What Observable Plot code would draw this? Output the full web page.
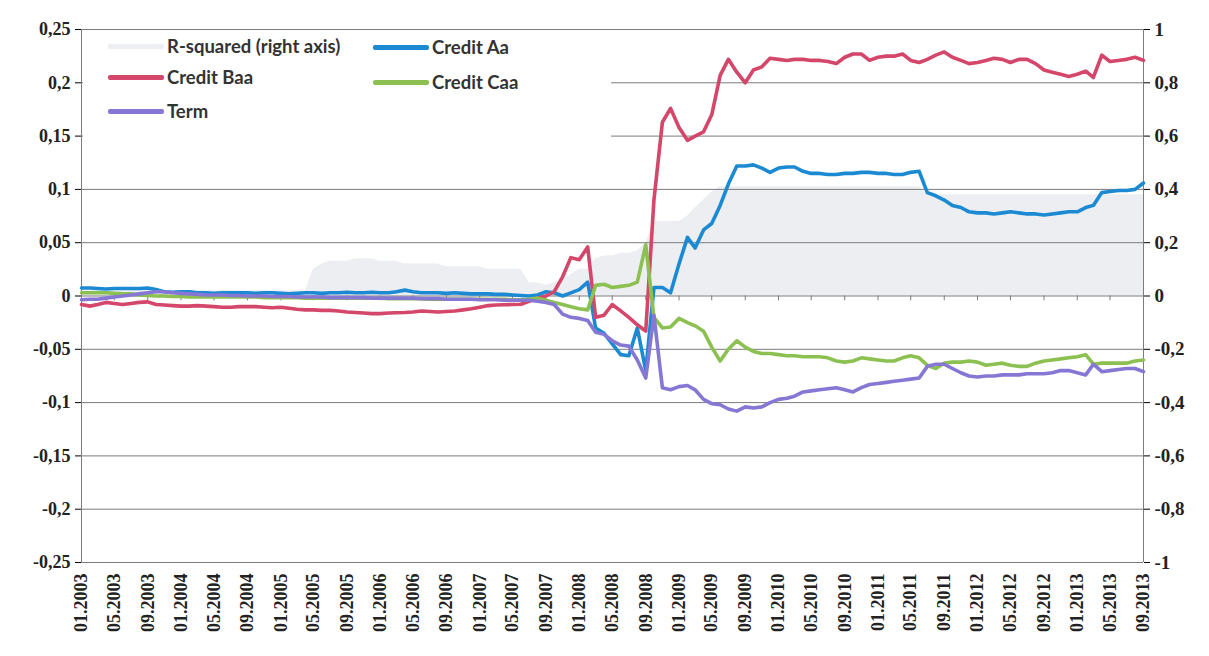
<!DOCTYPE html>
<html><head><meta charset="utf-8">
<script src="https://cdn.jsdelivr.net/npm/d3@7"></script>
<script src="https://cdn.jsdelivr.net/npm/@observablehq/plot@0.6"></script>
<style>
html,body{margin:0;padding:0;background:#fff;}
#wrap{position:relative;width:1209px;height:656px;}
#wrap svg text{font-family:"Liberation Serif", "Times New Roman", serif;font-weight:bold;}
#legend{position:absolute;left:83px;top:30px;width:528px;height:125px;background:#fff;font-family:Lato, sans-serif;font-size:18.5px;font-weight:bold;color:#333;}
.item{position:absolute;display:flex;align-items:center;height:20px;white-space:nowrap;}
.sw{width:56px;height:5px;margin-right:3px;border-radius:2px;}
</style></head><body><div id="wrap"><div id="legend"></div></div>
<script>
// ---- data ----
const startMonth = "2003-01-01";
const endMonth = "2013-09-01";
const seriesNames = ["R-squared (right axis)", "Credit Aa", "Credit Baa", "Credit Caa", "Term"];
const seriesColors = ["#eceef2", "#1b8ad3", "#d4466a", "#8cc152", "#8677d4"];
const leftTicks = [-0.25, -0.2, -0.15, -0.1, -0.05, 0, 0.05, 0.1, 0.15, 0.2, 0.25];

const creditBaa = [
-0.008,-0.0095,-0.008,-0.006,-0.007,-0.008,-0.007,-0.006,-0.0055,-0.008,
-0.0085,-0.009,-0.0095,-0.0095,-0.009,-0.0095,-0.01,-0.0105,-0.0105,-0.01,
-0.01,-0.01,-0.0105,-0.011,-0.0105,-0.0115,-0.0125,-0.013,-0.013,-0.0135,
-0.0135,-0.014,-0.015,-0.0155,-0.016,-0.0165,-0.0165,-0.016,-0.0157,-0.0155,
-0.015,-0.014,-0.0145,-0.015,-0.0145,-0.014,-0.013,-0.012,-0.0105,-0.009,
-0.0085,-0.0082,-0.008,-0.0078,-0.005,-0.002,0.0,0.004,0.018,0.036,
0.034,0.046,-0.02,-0.018,-0.008,-0.014,-0.02,-0.027,-0.033,0.09,
0.163,0.176,0.158,0.146,0.15,0.154,0.17,0.207,0.222,0.21,
0.2,0.212,0.215,0.223,0.222,0.221,0.222,0.222,0.221,0.221,
0.22,0.218,0.224,0.227,0.227,0.221,0.224,0.225,0.225,0.227,
0.221,0.219,0.222,0.226,0.229,0.224,0.221,0.218,0.219,0.221,
0.223,0.222,0.219,0.222,0.222,0.218,0.212,0.21,0.208,0.206,
0.208,0.211,0.205,0.226,0.22,0.221,0.222,0.224,0.221];

const creditAa = [
0.0075,0.0075,0.007,0.0065,0.007,0.007,0.007,0.007,0.0075,0.006,
0.004,0.0035,0.004,0.004,0.003,0.003,0.0025,0.003,0.003,0.003,
0.003,0.0025,0.003,0.003,0.0025,0.002,0.0025,0.003,0.003,0.0025,
0.003,0.003,0.0035,0.003,0.003,0.0035,0.003,0.003,0.004,0.0055,
0.004,0.003,0.003,0.003,0.0025,0.003,0.0025,0.002,0.002,0.002,
0.0015,0.0015,0.001,0.0005,0.0,0.001,0.004,0.003,0.0,0.003,
0.006,0.013,-0.03,-0.035,-0.045,-0.055,-0.056,-0.03,-0.07,0.008,
0.008,0.003,0.03,0.055,0.045,0.062,0.068,0.085,0.105,0.122,
0.122,0.123,0.12,0.116,0.12,0.121,0.121,0.117,0.115,0.115,
0.114,0.114,0.115,0.115,0.116,0.116,0.115,0.115,0.114,0.114,
0.116,0.117,0.097,0.094,0.09,0.085,0.083,0.079,0.078,0.078,
0.077,0.078,0.079,0.078,0.077,0.077,0.076,0.077,0.078,0.079,
0.079,0.083,0.085,0.097,0.098,0.099,0.099,0.1,0.106];

const creditCaa = [
0.003,0.003,0.003,0.003,0.0025,0.002,0.002,0.001,0.0005,0.0,
0.0,-0.0005,-0.0005,-0.001,-0.001,-0.001,-0.001,-0.001,-0.001,-0.001,
-0.001,-0.001,-0.0015,-0.0015,-0.0015,-0.0015,-0.0015,-0.002,-0.002,-0.002,
-0.002,-0.002,-0.002,-0.002,-0.002,-0.002,-0.002,-0.0025,-0.0025,-0.0025,
-0.0025,-0.0025,-0.003,-0.003,-0.003,-0.003,-0.003,-0.003,-0.003,-0.003,
-0.003,-0.003,-0.0035,-0.0035,-0.003,-0.002,-0.004,-0.006,-0.008,-0.01,
-0.012,-0.013,0.01,0.011,0.008,0.009,0.01,0.013,0.048,-0.02,
-0.03,-0.029,-0.021,-0.025,-0.028,-0.033,-0.048,-0.061,-0.05,-0.042,
-0.048,-0.052,-0.054,-0.054,-0.055,-0.056,-0.056,-0.057,-0.057,-0.057,
-0.058,-0.061,-0.062,-0.061,-0.058,-0.059,-0.06,-0.061,-0.061,-0.058,
-0.056,-0.058,-0.065,-0.068,-0.063,-0.062,-0.062,-0.061,-0.062,-0.065,
-0.064,-0.063,-0.065,-0.066,-0.066,-0.063,-0.061,-0.06,-0.059,-0.058,
-0.057,-0.055,-0.064,-0.063,-0.063,-0.063,-0.063,-0.061,-0.06];

const term = [
-0.0035,-0.003,-0.003,-0.002,-0.001,0.0,0.001,0.002,0.003,0.004,
0.004,0.003,0.0025,0.002,0.0015,0.001,0.001,0.001,0.0005,0.0005,
0.0,0.0,0.0,-0.0005,-0.0005,-0.0005,-0.001,-0.001,-0.001,-0.001,
-0.0015,-0.0015,-0.0015,-0.0015,-0.0015,-0.002,-0.002,-0.002,-0.002,-0.002,
-0.002,-0.0025,-0.0025,-0.0025,-0.003,-0.003,-0.003,-0.003,-0.0035,-0.0035,
-0.0035,-0.004,-0.004,-0.004,-0.004,-0.005,-0.006,-0.008,-0.017,-0.02,
-0.021,-0.023,-0.034,-0.036,-0.042,-0.046,-0.047,-0.06,-0.077,-0.018,
-0.086,-0.088,-0.085,-0.084,-0.088,-0.097,-0.101,-0.102,-0.106,-0.108,
-0.104,-0.105,-0.104,-0.1,-0.097,-0.096,-0.094,-0.09,-0.089,-0.088,
-0.087,-0.086,-0.088,-0.09,-0.086,-0.083,-0.082,-0.081,-0.08,-0.079,
-0.078,-0.077,-0.066,-0.064,-0.064,-0.068,-0.072,-0.075,-0.076,-0.075,
-0.075,-0.074,-0.074,-0.074,-0.073,-0.073,-0.073,-0.072,-0.07,-0.07,
-0.072,-0.074,-0.064,-0.071,-0.07,-0.069,-0.068,-0.068,-0.071];

// R-squared, in right-axis units
const rSquared = [
0.02,0.02,0.02,0.02,0.02,0.02,0.02,0.02,0.02,0.02,
0.02,0.02,0.02,0.02,0.02,0.02,0.02,0.02,0.02,0.02,
0.02,0.02,0.02,0.02,0.02,0.02,0.02,0.02,0.1,0.12,
0.13,0.13,0.13,0.14,0.14,0.14,0.13,0.13,0.13,0.12,
0.12,0.12,0.12,0.12,0.11,0.11,0.11,0.11,0.11,0.1,
0.1,0.1,0.1,0.1,0.05,0.05,0.04,0.05,0.06,0.08,
0.1,0.1,0.14,0.15,0.15,0.16,0.16,0.17,0.2,0.28,
0.28,0.28,0.28,0.3,0.33,0.36,0.39,0.41,0.41,0.41,
0.41,0.41,0.41,0.41,0.41,0.41,0.41,0.41,0.41,0.41,
0.41,0.41,0.41,0.41,0.41,0.41,0.41,0.41,0.41,0.41,
0.41,0.41,0.38,0.38,0.38,0.38,0.38,0.38,0.38,0.38,
0.38,0.38,0.38,0.38,0.38,0.38,0.38,0.38,0.38,0.38,
0.38,0.38,0.38,0.38,0.38,0.38,0.38,0.38,0.38];

// ---- build ----
const t0 = new Date(startMonth + "T00:00:00Z");
const t1 = new Date(endMonth + "T00:00:00Z");
const months = d3.utcMonth.range(t0, d3.utcMonth.offset(t1, 1));
const tickDates = months.filter((d, i) => i % 4 === 0);
const rightScale = 4; // right axis = left axis * 4

const lineSeries = [
  {name: seriesNames[1], values: creditAa},
  {name: seriesNames[2], values: creditBaa},
  {name: seriesNames[3], values: creditCaa},
  {name: seriesNames[4], values: term}
];
const rows = [];
lineSeries.forEach(s => s.values.forEach((v, i) => rows.push({date: months[i], value: v, name: s.name})));
const r2rows = rSquared.map((v, i) => ({date: months[i], r2: v}));

const fmt = v => {
  const r = Math.round(v * 100) / 100;
  return (Object.is(r, -0) ? 0 : r).toString().replace(".", ",");
};
const gridColor = "#7c7c7c";

const chart = Plot.plot({
  width: 1209,
  height: 656,
  marginLeft: 81,
  marginRight: 66,
  marginTop: 29,
  marginBottom: 94,
  x: {type: "utc", domain: [t0, t1], label: null},
  y: {domain: [-0.25, 0.25], label: null},
  color: {domain: seriesNames.slice(1), range: seriesColors.slice(1)},
  marks: [
    Plot.areaY(r2rows, {x: "date", y: d => d.r2 / rightScale, fill: seriesColors[0], curve: "linear"}),
    Plot.ruleY(leftTicks, {stroke: gridColor, strokeWidth: 1}),
    Plot.ruleX([t0, t1], {stroke: gridColor, strokeWidth: 1}),
    Plot.ruleX(tickDates, {y1: 0, y2: -0.0045, stroke: gridColor, strokeWidth: 1}),
    Plot.lineY(rows, {x: "date", y: "value", z: "name", stroke: "name", strokeWidth: 3.6, strokeLinejoin: "round", strokeLinecap: "round"}),
    Plot.axisY(leftTicks, {anchor: "left", label: null, tickFormat: fmt, tickSize: 6, tickPadding: 5, fontSize: 18, fill: "#222"}),
    Plot.axisY(leftTicks, {anchor: "right", label: null, tickFormat: v => fmt(v * rightScale), tickSize: 6, tickPadding: 5, fontSize: 19, fill: "#222"}),
    Plot.axisX(tickDates, {anchor: "bottom", label: null, tickFormat: d3.utcFormat("%m.%Y"), tickRotate: -90, tickSize: 0, tickPadding: 11, fontSize: 18, fill: "#222"})
  ]
});
chart.style.position = "absolute";
chart.style.left = "0px";
chart.style.top = "0px";
const wrap = document.getElementById("wrap");
wrap.insertBefore(chart, wrap.firstChild);

// ---- legend (overlay, white box like the original) ----
const legendPos = [
  {i: 0, left: 25, top: 6},
  {i: 1, left: 290, top: 7},
  {i: 2, left: 25, top: 37},
  {i: 3, left: 290, top: 42},
  {i: 4, left: 25, top: 71}
];
const legend = document.getElementById("legend");
legendPos.forEach(p => {
  const it = document.createElement("div");
  it.className = "item";
  it.style.left = p.left + "px";
  it.style.top = p.top + "px";
  const sw = document.createElement("span");
  sw.className = "sw";
  sw.style.background = seriesColors[p.i];
  const tx = document.createElement("span");
  tx.textContent = seriesNames[p.i];
  it.appendChild(sw); it.appendChild(tx);
  legend.appendChild(it);
});
</script></body></html>
